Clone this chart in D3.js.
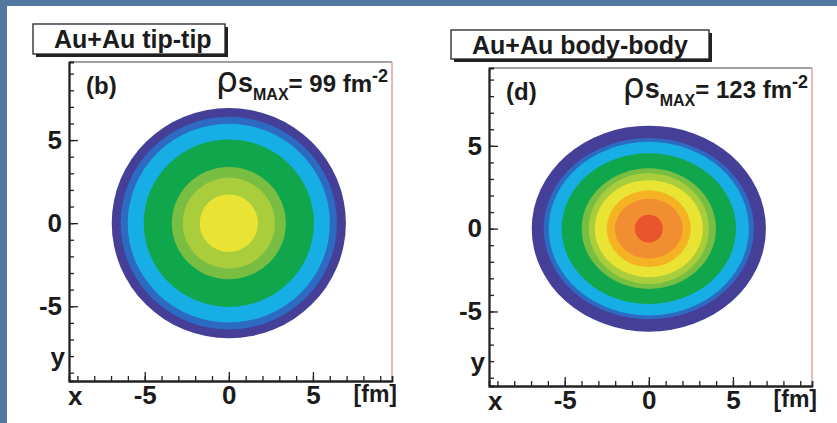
<!DOCTYPE html>
<html>
<head>
<meta charset="utf-8">
<script src="https://cdn.jsdelivr.net/npm/d3@7"></script>
<style>
  body { margin: 0; background: #5278a2; }
  svg { display: block; }
  text { font-family: "Liberation Sans", Arial, sans-serif; fill: #1b1b1b; }
</style>
</head>
<body>
<svg id="chart" width="837" height="423"></svg>
<script>
// panel titles, tags and max density
var titles = ["Au+Au tip-tip", "Au+Au body-body"];
var tags = ["(b)", "(d)"];
var rhoMax = [99, 123];

// contour band colours, outside -> inside
var bandColors = ["#453f97", "#2d6ac2", "#17aee6", "#10a64b", "#78be43", "#aacd3b",
                  "#e9e434", "#f5b323", "#f18e31", "#e8552d"];

// contour band semi-axes in fm (x and y), outside -> inside
var tipRx = [6.96, 6.43, 6.01, 5.06, 3.39, 2.74, 1.73];
var tipRy = [6.93, 6.40, 5.98, 5.04, 3.38, 2.73, 1.73];
var bodyRx = [6.96, 6.25, 5.95, 5.18, 3.99, 3.57, 3.21, 2.50, 2.02, 0.83];
var bodyRy = [6.22, 5.47, 5.24, 4.55, 3.64, 3.34, 2.93, 2.32, 1.81, 0.84];

// axis ticks
var majorTicks = [-5, 0, 5];
var minorTicks = d3.range(-9, 10);
var domain = [-9.5, 9.7];

var svg = d3.select("#chart");

// slide background + white sheet
svg.append("rect").attr("width", 837).attr("height", 423).attr("fill", "#5278a2");
svg.append("rect").attr("x", 7).attr("y", 6).attr("width", 830).attr("height", 417).attr("fill", "#fff");

var panels = [
  {title: titles[0], tag: tags[0], rho: rhoMax[0], rx: tipRx, ry: tipRy,
   frame: {x0: 69, x1: 392, y0: 62, y1: 381}, box: {x: 33, y: 24, w: 192, h: 30}},
  {title: titles[1], tag: tags[1], rho: rhoMax[1], rx: bodyRx, ry: bodyRy,
   frame: {x0: 489, x1: 812, y0: 68, y1: 386}, box: {x: 451, y: 30, w: 258, h: 29}}
];

panels.forEach(function(p) {
  var f = p.frame;
  var x = d3.scaleLinear().domain(domain).range([f.x0, f.x1]);
  var y = d3.scaleLinear().domain(domain).range([f.y1, f.y0]);
  var g = svg.append("g");

  // title box with shadow
  g.append("rect").attr("x", p.box.x + 3).attr("y", p.box.y + 3)
    .attr("width", p.box.w).attr("height", p.box.h).attr("fill", "#222");
  g.append("rect").attr("x", p.box.x).attr("y", p.box.y)
    .attr("width", p.box.w).attr("height", p.box.h)
    .attr("fill", "#fff").attr("stroke", "#222").attr("stroke-width", 1.3);
  g.append("text").attr("x", p.box.x + 21).attr("y", p.box.y + 24)
    .attr("font-size", 25).attr("font-weight", "bold").text(p.title);

  // frame
  g.append("rect").attr("x", f.x0).attr("y", f.y0)
    .attr("width", f.x1 - f.x0).attr("height", f.y1 - f.y0)
    .attr("fill", "#fff").attr("stroke", "none");

  // contour bands
  g.append("g").selectAll("ellipse")
    .data(p.rx.map(function(r, i) { return {rx: r, ry: p.ry[i], c: bandColors[i]}; }))
    .enter().append("ellipse")
    .attr("cx", x(0)).attr("cy", y(0))
    .attr("rx", function(d) { return x(d.rx) - x(0); })
    .attr("ry", function(d) { return y(0) - y(d.ry); })
    .attr("fill", function(d) { return d.c; });

  // top / right border
  g.append("line").attr("x1", f.x0).attr("x2", f.x1).attr("y1", f.y0).attr("y2", f.y0)
    .attr("stroke", "#444").attr("stroke-width", 1.2);
  g.append("line").attr("x1", f.x1).attr("x2", f.x1).attr("y1", f.y0).attr("y2", f.y1)
    .attr("stroke", "#e6a0a0").attr("stroke-width", 1.5);

  // axes (ticks point inward)
  var minorX = d3.axisBottom(x).tickValues(minorTicks).tickSize(-5).tickFormat("");
  var majorX = d3.axisBottom(x).tickValues(majorTicks).tickSizeInner(-9).tickSizeOuter(0)
    .tickPadding(5).tickFormat(function(d) { return String(d); });
  var minorY = d3.axisLeft(y).tickValues(minorTicks).tickSize(-5).tickFormat("");
  var majorY = d3.axisLeft(y).tickValues(majorTicks).tickSizeInner(-9).tickSizeOuter(0)
    .tickPadding(7).tickFormat(function(d) { return String(d); });

  [minorX, majorX].forEach(function(a) {
    g.append("g").attr("transform", "translate(0," + f.y1 + ")").call(a);
  });
  [minorY, majorY].forEach(function(a) {
    g.append("g").attr("transform", "translate(" + f.x0 + ",0)").call(a);
  });
  g.selectAll(".domain").attr("stroke", "#222").attr("stroke-width", 1.8);
  g.selectAll(".tick line").attr("stroke", "#222").attr("stroke-width", 1.3);
  g.selectAll(".tick text").attr("font-size", 26).attr("font-weight", "bold")
    .attr("font-family", "Liberation Sans, Arial, sans-serif").attr("fill", "#1b1b1b");

  // axis titles
  g.append("text").attr("x", f.x0 - 1).attr("y", f.y1 + 24)
    .attr("font-size", 26).attr("font-weight", "bold").text("x");
  g.append("text").attr("x", f.x0 - 4).attr("y", f.y1 - 15).attr("text-anchor", "end")
    .attr("font-size", 26).attr("font-weight", "bold").text("y");
  g.append("text").attr("x", f.x1 + 5).attr("y", f.y1 + 21).attr("text-anchor", "end")
    .attr("font-size", 23).attr("font-weight", "bold").text("[fm]");

  // panel tag
  g.append("text").attr("x", f.x0 + 17).attr("y", f.y0 + 32)
    .attr("font-size", 24).attr("font-weight", "bold").text(p.tag);

  // rho_s max label
  var t = g.append("text").attr("x", f.x1 - 4).attr("y", f.y0 + 30)
    .attr("text-anchor", "end").attr("font-size", 24).attr("font-weight", "bold");
  t.append("tspan").attr("font-size", 35).attr("font-weight", "normal")
    .attr("font-family", "DejaVu Sans, sans-serif").text("\u03c1");
  t.append("tspan").attr("font-size", 27).text("s");
  t.append("tspan").attr("font-size", 16).attr("dy", 8).text("MAX");
  t.append("tspan").attr("dy", -8).text("= " + p.rho + " fm");
  t.append("tspan").attr("font-size", 18).attr("dy", -10).text("-2");
});
</script>
</body>
</html>
